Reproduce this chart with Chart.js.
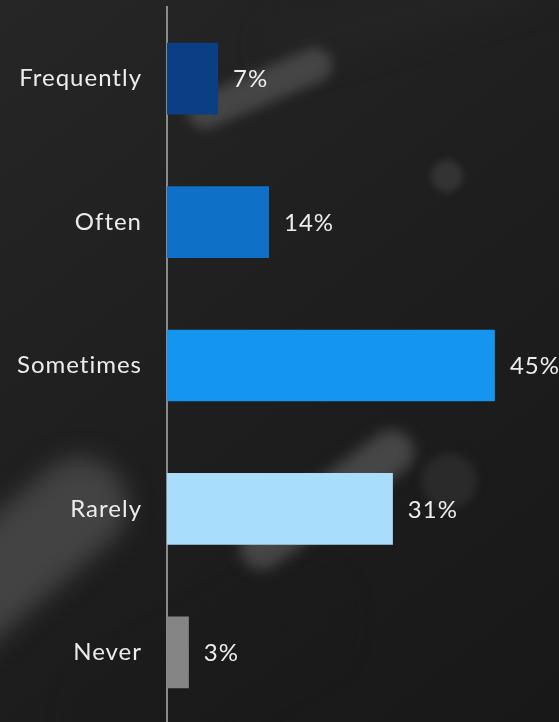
<!DOCTYPE html>
<html>
<head>
<meta charset="utf-8">
<script src="https://cdn.jsdelivr.net/npm/chart.js@4"></script>
<style>
  html, body { margin: 0; padding: 0; background: #1d1d1d; overflow: hidden; }
  #wrap { width: 559px; height: 722px; overflow: hidden; }
  canvas { display: block; }
</style>
</head>
<body>
<div id="wrap"><canvas id="c" width="559" height="724"></canvas></div>
<script>
// Survey answer frequencies (percent of respondents)
const categories = ['Frequently', 'Often', 'Sometimes', 'Rarely', 'Never'];
const shares = [7, 14, 45, 31, 3];
const barColors = ['#0a3f86', '#0e70c6', '#1495ef', '#a8ddfc', '#858585'];
const xMax = 53.8;

const FONT = 'Lato, "Noto Sans", sans-serif';
const TEXT = '#ececec';

// Dark backdrop with soft out-of-focus light streaks
const backdrop = {
  id: 'backdrop',
  beforeDraw(chart) {
    const ctx = chart.ctx;
    const w = chart.width, h = chart.height;
    ctx.save();
    const g = ctx.createLinearGradient(0, 0, w, h);
    g.addColorStop(0, '#262626');
    g.addColorStop(0.5, '#1e1e1e');
    g.addColorStop(1, '#181818');
    ctx.fillStyle = g;
    ctx.fillRect(0, 0, w, h);

    const capsule = (x1, y1, x2, y2, width, color, blur) => {
      ctx.filter = 'blur(' + blur + 'px)';
      ctx.strokeStyle = color;
      ctx.lineWidth = width;
      ctx.lineCap = 'round';
      ctx.beginPath();
      ctx.moveTo(x1, y1);
      ctx.lineTo(x2, y2);
      ctx.stroke();
    };
    const dot = (x, y, r, color, blur) => {
      ctx.filter = 'blur(' + blur + 'px)';
      ctx.fillStyle = color;
      ctx.beginPath();
      ctx.arc(x, y, r, 0, Math.PI * 2);
      ctx.fill();
    };

    capsule(290, 45, 520, -20, 45, '#242424', 14);
    capsule(205, 112, 315, 65, 34, '#454545', 6);
    dot(447, 176, 16, '#333333', 3);
    capsule(-60, 625, 80, 505, 95, '#434343', 12);
    capsule(262, 548, 392, 452, 44, '#464646', 7);
    dot(449, 481, 28, '#2a2a2a', 4);
    capsule(120, 720, 300, 620, 60, '#1b1b1b', 20);
    ctx.restore();
    // slightly open tracking for all text drawn after this point
    ctx.letterSpacing = '1px';
  },
  afterDraw(chart) {
    chart.ctx.letterSpacing = '0px';
  }
};

// Percentage labels to the right of each bar
const valueLabels = {
  id: 'valueLabels',
  afterDatasetsDraw(chart) {
    const ctx = chart.ctx;
    const meta = chart.getDatasetMeta(0);
    ctx.save();
    ctx.font = '24px ' + FONT;
    ctx.fillStyle = TEXT;
    ctx.textAlign = 'left';
    ctx.textBaseline = 'middle';
    meta.data.forEach((bar, i) => {
      ctx.fillText(shares[i] + '%', bar.x + 15, bar.y + 1);
    });
    ctx.restore();
  }
};

new Chart(document.getElementById('c'), {
  type: 'bar',
  data: {
    labels: categories,
    datasets: [{
      data: shares,
      backgroundColor: barColors,
      borderWidth: 0,
      barPercentage: 0.5,
      categoryPercentage: 1
    }]
  },
  options: {
    indexAxis: 'y',
    responsive: false,
    animation: false,
    events: [],
    layout: { padding: { top: 7, right: 0, bottom: 0, left: 0 } },
    plugins: {
      legend: { display: false },
      tooltip: { enabled: false }
    },
    scales: {
      x: {
        display: false,
        min: 0,
        max: xMax
      },
      y: {
        grid: { display: false, drawTicks: false },
        border: { display: true, color: '#8a8a8a', width: 2 },
        ticks: {
          color: TEXT,
          padding: 25,
          font: { family: FONT, size: 24 }
        },
        afterFit(scale) {
          scale.width = 167;
          scale.paddingTop = 0;
          scale.paddingBottom = 0;
        }
      }
    }
  },
  plugins: [backdrop, valueLabels]
});
</script>
</body>
</html>
